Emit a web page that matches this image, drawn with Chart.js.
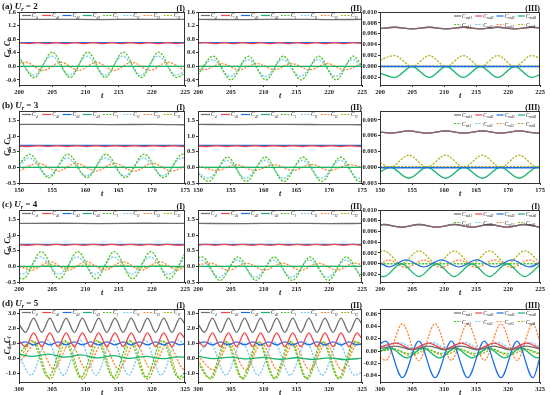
<!DOCTYPE html>
<html><head><meta charset="utf-8">
<script src="https://cdn.jsdelivr.net/npm/chart.js@4.4.0/dist/chart.umd.min.js"></script>
<style>
html,body{margin:0;padding:0;background:#fff}
body{width:550px;height:395px;position:relative;overflow:hidden}
canvas{position:absolute}
</style>
</head><body>
<script>
// ---------- tick labels ----------
const xTicksA = [200,205,210,215,220,225];
const xTicksB = [150,155,160,165,170,175];
const xTicksD = [300,305,310,315,320,325];
const yTicksA12 = [-0.4,0,0.4,0.8,1.2,1.6];
const yTicksBC12 = [-0.5,0,0.5,1.0,1.5];
const yTicksD12 = [-1,0,1,2,3];
const yTicksA3 = [-0.002,0,0.002,0.004,0.006,0.008,0.010];
const yTicksB3 = [-0.003,0,0.003,0.006,0.009];
const yTicksD3 = [-0.04,-0.02,0,0.02,0.04,0.06];
const legend12 = [['d',''],['d','1'],['d','2'],['d','3'],['l',''],['l','1'],['l','2'],['l','3']];
const legend3 = [['m','d1'],['m','d2'],['m','d3'],['m','d4'],['m','l1'],['m','l2'],['m','l3'],['m','l4']];
const titles = ['(a) ','(b) ','(c) ','(d) '];
const urValues = ['2','3','4','5'];
const tags = [['(I)','(II)','(III)'],['(I)','(II)','(III)'],['(I)','(II)','(I)'],['(I)','(II)','(III)']];

// ---------- row (a) U_r = 2 ----------
const aI_d  = [[200,1.38],[206,1.385],[212,1.378],[218,1.385],[225,1.38]];
const aI_d1 = [[200,0.69],[201.4,0.67],[202.8,0.70],[204.2,0.67],[205.6,0.70],[207.0,0.67],[208.4,0.70],[209.8,0.67],[211.2,0.70],[212.6,0.67],[214.0,0.70],[215.4,0.67],[216.8,0.70],[218.2,0.67],[219.6,0.70],[221.0,0.67],[222.4,0.70],[223.8,0.67],[225,0.69]];
const aI_d2 = [[200,0.70],[225,0.70]];
const aI_d3 = [[200,0.0],[225,0.0]];
const aI_l  = [[200,0.28],[202.3,-0.33],[205.0,0.42],[207.7,-0.33],[210.35,0.42],[213.0,-0.33],[215.7,0.42],[218.4,-0.33],[221.05,0.42],[223.7,-0.33],[225,-0.2]];
const aI_l1 = [[200,0.22],[202.2,-0.26],[204.9,0.30],[207.6,-0.26],[210.25,0.30],[212.9,-0.26],[215.6,0.30],[218.3,-0.26],[220.95,0.30],[223.6,-0.26],[225,-0.14]];
const aI_l2 = [[200,0.1],[201.0,0.12],[203.6,-0.12],[206.3,0.12],[209.0,-0.12],[211.65,0.12],[214.3,-0.12],[217.0,0.12],[219.7,-0.12],[222.35,0.12],[225,-0.12]];
const aI_l3 = [[200,0.0],[225,0.0]];

const aII_d  = [[200,1.38],[207,1.376],[214,1.384],[220,1.377],[225,1.38]];
const aII_d1 = [[200,0.68],[201.2,0.70],[202.6,0.67],[204.0,0.70],[205.4,0.67],[206.8,0.70],[208.2,0.67],[209.6,0.70],[211.0,0.67],[212.4,0.70],[213.8,0.67],[215.2,0.70],[216.6,0.67],[218.0,0.70],[219.4,0.67],[220.8,0.70],[222.2,0.67],[223.6,0.70],[225,0.67]];
const aII_d2 = [[200,0.70],[225,0.70]];
const aII_d3 = [[200,0.0],[225,0.0]];
const aII_l  = [[200,-0.25],[202.3,0.30],[205.0,-0.40],[207.7,0.30],[210.35,-0.40],[213.0,0.30],[215.7,-0.40],[218.4,0.30],[221.05,-0.40],[223.7,0.30],[225,0.0]];
const aII_l1 = [[200,-0.18],[202.2,0.20],[204.9,-0.30],[207.6,0.20],[210.25,-0.30],[212.9,0.20],[215.6,-0.30],[218.3,0.20],[220.95,-0.30],[223.6,0.20],[225,-0.05]];
const aII_l2 = [[200,-0.08],[200.9,-0.10],[203.6,0.08],[206.3,-0.10],[209.0,0.08],[211.65,-0.10],[214.3,0.08],[217.0,-0.10],[219.7,0.08],[222.35,-0.10],[225,0.08]];
const aII_l3 = [[200,0.0],[225,0.0]];

const aIII_m  = [[200,0.00695],[202.3,0.0072],[205.0,0.0069],[207.7,0.0072],[210.35,0.0069],[213.0,0.0072],[215.7,0.0069],[218.4,0.0072],[221.05,0.0069],[223.7,0.0072],[225,0.0071]];
const aIII_d3 = [[200,0.0],[225,0.0]];
const aIII_d4 = [[200,-0.0012],[202.3,-0.0020],[205.0,0.0],[207.7,-0.0020],[210.35,0.0],[213.0,-0.0020],[215.7,0.0],[218.4,-0.0020],[221.05,0.0],[223.7,-0.0020],[225,-0.0015]];
const aIII_l1 = [[200,0.0],[225,0.0]];
const aIII_l3 = [[200,0.00005],[225,0.00005]];
const aIII_l4 = [[200,0.0012],[202.3,0.0020],[205.0,0.0],[207.7,0.0020],[210.35,0.0],[213.0,0.0020],[215.7,0.0],[218.4,0.0020],[221.05,0.0],[223.7,0.0020],[225,0.0015]];

// ---------- row (b) U_r = 3 ----------
const bI_d  = [[150,1.37],[157,1.375],[164,1.366],[170,1.372],[175,1.36]];
const bI_d1 = [[150,0.68],[151.45,0.665],[152.9,0.69],[154.35,0.665],[155.8,0.69],[157.25,0.665],[158.7,0.69],[160.15,0.665],[161.6,0.69],[163.05,0.665],[164.5,0.69],[165.95,0.665],[167.4,0.69],[168.85,0.665],[170.3,0.69],[171.75,0.665],[173.2,0.69],[174.65,0.665],[175,0.67]];
const bI_d2 = [[150,0.70],[175,0.70]];
const bI_d3 = [[150,0.0],[175,0.0]];
const bI_l  = [[150,0.1],[151.6,0.42],[154.5,-0.33],[157.35,0.42],[160.25,-0.33],[163.1,0.42],[166.0,-0.33],[168.85,0.42],[171.75,-0.33],[174.6,0.42],[175,0.41]];
const bI_l1 = [[150,0.05],[151.5,0.30],[154.4,-0.27],[157.25,0.30],[160.15,-0.27],[163.0,0.30],[165.9,-0.27],[168.75,0.30],[171.65,-0.27],[174.5,0.30],[175,0.29]];
const bI_l2 = [[150,-0.12],[152.9,0.13],[155.8,-0.12],[158.65,0.13],[161.55,-0.12],[164.4,0.13],[167.3,-0.12],[170.15,0.13],[173.05,-0.12],[175,0.05]];
const bI_l3 = [[150,0.0],[175,0.0]];

const bII_d  = [[150,1.37],[156,1.366],[163,1.374],[169,1.366],[175,1.36]];
const bII_d1 = bI_d1;
const bII_d2 = [[150,0.70],[175,0.70]];
const bII_d3 = [[150,0.0],[175,0.0]];
const bII_l  = [[150,-0.2],[151.6,-0.45],[154.5,0.33],[157.35,-0.45],[160.25,0.33],[163.1,-0.45],[166.0,0.33],[168.85,-0.45],[171.75,0.33],[174.6,-0.45],[175,-0.43]];
const bII_l1 = [[150,-0.15],[151.5,-0.35],[154.4,0.22],[157.25,-0.35],[160.15,0.22],[163.0,-0.35],[165.9,0.22],[168.75,-0.35],[171.65,0.22],[174.5,-0.35],[175,-0.34]];
const bII_l2 = [[150,0.05],[152.9,-0.10],[155.8,0.09],[158.65,-0.10],[161.55,0.09],[164.4,-0.10],[167.3,0.09],[170.15,-0.10],[173.05,0.09],[175,0.0]];
const bII_l3 = [[150,0.0],[175,0.0]];

const bIII_m  = [[150,0.0067],[151.6,0.0065],[154.5,0.0069],[157.35,0.0065],[160.25,0.0069],[163.1,0.0065],[166.0,0.0069],[168.85,0.0065],[171.75,0.0069],[174.6,0.0065],[175,0.0065]];
const bIII_d3 = [[150,-0.0001],[175,-0.0001]];
const bIII_d4 = [[150,-0.0009],[151.6,0.0],[154.5,-0.0021],[157.35,0.0],[160.25,-0.0021],[163.1,0.0],[166.0,-0.0021],[168.85,0.0],[171.75,-0.0021],[174.6,0.0],[175,-0.0001]];
const bIII_l1 = [[150,0.0],[175,0.0]];
const bIII_l3 = [[150,0.0001],[175,0.0001]];
const bIII_l4 = [[150,0.0009],[151.6,0.0],[154.5,0.0023],[157.35,0.0],[160.25,0.0023],[163.1,0.0],[166.0,0.0023],[168.85,0.0],[171.75,0.0023],[174.6,0.0],[175,0.0001]];

// ---------- row (c) U_r = 4 ----------
const cI_d  = [[200,1.37],[206,1.376],[212,1.366],[219,1.376],[225,1.37]];
const cI_d1 = aI_d1;
const cI_d2 = [[200,0.70],[225,0.70]];
const cI_d3 = [[200,0.0],[225,0.0]];
const cI_l  = [[200,-0.37],[200.6,-0.40],[203.35,0.47],[206.1,-0.40],[208.85,0.47],[211.6,-0.40],[214.35,0.47],[217.1,-0.40],[219.85,0.47],[222.6,-0.40],[225,0.42]];
const cI_l1 = [[200,-0.23],[200.5,-0.25],[203.25,0.30],[206.0,-0.25],[208.75,0.30],[211.5,-0.25],[214.25,0.30],[217.0,-0.25],[219.75,0.30],[222.5,-0.25],[225,0.27]];
const cI_l2 = [[200,0.0],[201.9,-0.12],[204.65,0.15],[207.4,-0.12],[210.15,0.15],[212.9,-0.12],[215.65,0.15],[218.4,-0.12],[221.15,0.15],[223.9,-0.12],[225,0.0]];
const cI_l3 = [[200,0.0],[201.9,-0.04],[204.65,0.04],[207.4,-0.04],[210.15,0.04],[212.9,-0.04],[215.65,0.04],[218.4,-0.04],[221.15,0.04],[223.9,-0.04],[225,0.0]];

const cII_d  = [[200,1.37],[207,1.366],[213,1.375],[220,1.366],[225,1.37]];
const cII_d1 = aII_d1;
const cII_d2 = [[200,0.70],[225,0.70]];
const cII_d3 = [[200,0.0],[225,0.0]];
const cII_l  = [[200,0.28],[200.6,0.30],[203.35,-0.45],[206.1,0.30],[208.85,-0.45],[211.6,0.30],[214.35,-0.45],[217.1,0.30],[219.85,-0.45],[222.6,0.30],[225,-0.43]];
const cII_l1 = [[200,0.18],[200.5,0.20],[203.25,-0.35],[206.0,0.20],[208.75,-0.35],[211.5,0.20],[214.25,-0.35],[217.0,0.20],[219.75,-0.35],[222.5,0.20],[225,-0.33]];
const cII_l2 = [[200,0.05],[201.9,0.10],[204.65,-0.12],[207.4,0.10],[210.15,-0.12],[212.9,0.10],[215.65,-0.12],[218.4,0.10],[221.15,-0.12],[223.9,0.10],[225,0.05]];
const cII_l3 = [[200,0.0],[225,0.0]];

const cIII_m  = [[200,0.0072],[200.6,0.0073],[203.35,0.0068],[206.1,0.0073],[208.85,0.0068],[211.6,0.0073],[214.35,0.0068],[217.1,0.0073],[219.85,0.0068],[222.6,0.0073],[225,0.0068]];
const cIII_d3 = [[200,0.0002],[201.35,-0.0006],[204.1,0.0007],[206.85,-0.0006],[209.6,0.0007],[212.35,-0.0006],[215.1,0.0007],[217.85,-0.0006],[220.6,0.0007],[223.35,-0.0006],[225,0.0002]];
const cIII_d4 = [[200,-0.0023],[200.6,-0.0024],[203.35,0.0],[206.1,-0.0024],[208.85,0.0],[211.6,-0.0024],[214.35,0.0],[217.1,-0.0024],[219.85,0.0],[222.6,-0.0024],[225,-0.0002]];
const cIII_l1 = [[200,0.0],[225,0.0]];
const cIII_l3 = [[200,-0.0002],[201.35,0.0007],[204.1,-0.0007],[206.85,0.0007],[209.6,-0.0007],[212.35,0.0007],[215.1,-0.0007],[217.85,0.0007],[220.6,-0.0007],[223.35,0.0007],[225,-0.0002]];
const cIII_l4 = [[200,0.0023],[200.6,0.0024],[203.35,0.0],[206.1,0.0024],[208.85,0.0],[211.6,0.0024],[214.35,0.0],[217.1,0.0024],[219.85,0.0],[222.6,0.0024],[225,0.0002]];

// ---------- row (d) U_r = 5 ----------
const dI_d  = [[300,2.3],[300.98,1.75],[302.2,2.7],[303.43,1.75],[304.65,2.7],[305.88,1.75],[307.1,2.7],[308.33,1.75],[309.55,2.7],[310.78,1.75],[312.0,2.7],[313.23,1.75],[314.45,2.7],[315.68,1.75],[316.9,2.7],[318.13,1.75],[319.35,2.7],[320.58,1.75],[321.8,2.7],[323.03,1.75],[324.25,2.7],[325,2.3]];
const dI_d1 = [[300,1.2],[300.98,0.8],[302.2,1.72],[303.43,0.8],[304.65,1.72],[305.88,0.8],[307.1,1.72],[308.33,0.8],[309.55,1.72],[310.78,0.8],[312.0,1.72],[313.23,0.8],[314.45,1.72],[315.68,0.8],[316.9,1.72],[318.13,0.8],[319.35,1.72],[320.58,0.8],[321.8,1.72],[323.03,0.8],[324.25,1.72],[325,1.3]];
const dI_d2 = [[300,1.0],[300.98,1.12],[302.2,0.92],[303.43,1.12],[304.65,0.92],[305.88,1.12],[307.1,0.92],[308.33,1.12],[309.55,0.92],[310.78,1.12],[312.0,0.92],[313.23,1.12],[314.45,0.92],[315.68,1.12],[316.9,0.92],[318.13,1.12],[319.35,0.92],[320.58,1.12],[321.8,0.92],[323.03,1.12],[324.25,0.92],[325,1.0]];
const dI_d3 = [[300,0.3],[302.0,0.15],[304.4,0.3],[306.9,0.1],[309.3,0.25],[311.8,0.05],[314.2,0.2],[316.7,0.02],[319.1,0.15],[321.6,0.0],[324.0,0.12],[325,0.1]];
const dI_l  = [[300,0.3],[301.95,1.2],[304.4,-1.25],[306.85,1.2],[309.3,-1.25],[311.75,1.2],[314.2,-1.25],[316.65,1.2],[319.1,-1.25],[321.55,1.2],[324.0,-1.25],[325,-0.9]];
const dI_l1 = [[300,0.2],[301.8,-1.1],[304.25,1.25],[306.7,-1.1],[309.15,1.25],[311.6,-1.1],[314.05,1.25],[316.5,-1.1],[318.95,1.25],[321.4,-1.1],[323.85,1.25],[325,0.9]];
const dI_l2 = [[300,-0.3],[302.8,1.05],[305.25,-0.7],[307.7,1.05],[310.15,-0.7],[312.6,1.05],[315.05,-0.7],[317.5,1.05],[319.95,-0.7],[322.4,1.05],[324.85,-0.7],[325,-0.7]];
const dI_l3 = [[300,0.0],[302.25,1.15],[304.7,-1.35],[307.15,1.15],[309.6,-1.35],[312.05,1.15],[314.5,-1.35],[316.95,1.15],[319.4,-1.35],[321.85,1.15],[324.3,-1.35],[325,-1.1]];

const dII_d  = dI_d;
const dII_d1 = dI_d1;
const dII_d2 = dI_d2;
const dII_d3 = [[300,0.15],[302.5,0.0],[305,0.1],[307.5,-0.02],[310,0.08],[312.5,-0.04],[315,0.06],[317.5,-0.05],[320,0.05],[322.5,-0.06],[325,0.03]];
const dII_l  = [[300,-0.3],[301.8,-1.3],[304.25,1.15],[306.7,-1.3],[309.15,1.15],[311.6,-1.3],[314.05,1.15],[316.5,-1.3],[318.95,1.15],[321.4,-1.3],[323.85,1.15],[325,0.9]];
const dII_l1 = [[300,0.3],[301.8,1.1],[304.25,-1.1],[306.7,1.1],[309.15,-1.1],[311.6,1.1],[314.05,-1.1],[316.5,1.1],[318.95,-1.1],[321.4,1.1],[323.85,-1.1],[325,-0.9]];
const dII_l2 = [[300,0.2],[302.35,-0.75],[304.8,1.0],[307.25,-0.75],[309.7,1.0],[312.15,-0.75],[314.6,1.0],[317.05,-0.75],[319.5,1.0],[321.95,-0.75],[324.4,1.0],[325,0.95]];
const dII_l3 = [[300,-0.1],[302.0,-1.35],[304.45,1.1],[306.9,-1.35],[309.35,1.1],[311.8,-1.35],[314.25,1.1],[316.7,-1.35],[319.15,1.1],[321.6,-1.35],[324.05,1.1],[325,0.95]];

const dIII_d1 = [[300,0.004],[302.5,0.008],[305.0,0.002],[307.6,0.008],[310.1,0.002],[312.7,0.008],[315.2,0.002],[317.8,0.008],[320.3,0.002],[322.9,0.008],[325,0.003]];
const dIII_d2 = [[300,0.006],[302.5,0.013],[305.0,0.003],[307.6,0.013],[310.1,0.003],[312.7,0.013],[315.2,0.003],[317.8,0.013],[320.3,0.003],[322.9,0.013],[325,0.004]];
const dIII_d3 = [[300,0.012],[300.9,0.016],[303.5,-0.043],[306.05,0.016],[308.6,-0.043],[311.15,0.016],[313.7,-0.043],[316.3,0.016],[318.9,-0.043],[321.4,0.016],[323.9,-0.043],[325,-0.01]];
const dIII_d4 = [[300,0.0],[301.6,0.005],[304.2,-0.011],[306.7,0.005],[309.3,-0.011],[311.8,0.005],[314.4,-0.011],[316.9,0.005],[319.5,-0.011],[322.0,0.005],[324.6,-0.011],[325,-0.009]];
const dIII_l1 = [[300,0.0],[302.0,0.004],[304.5,-0.004],[307.1,0.004],[309.6,-0.004],[312.2,0.004],[314.7,-0.004],[317.3,0.004],[319.8,-0.004],[322.4,0.004],[325,-0.004]];
const dIII_l2 = [[300,0.008],[303.0,0.014],[305.5,0.004],[308.1,0.014],[310.6,0.004],[313.2,0.014],[315.7,0.004],[318.3,0.014],[320.8,0.004],[323.4,0.014],[325,0.007]];
const dIII_l3 = [[300,-0.01],[300.9,-0.015],[303.5,0.044],[306.05,-0.015],[308.6,0.044],[311.15,-0.015],[313.7,0.044],[316.3,-0.015],[318.9,0.044],[321.4,-0.015],[323.9,0.044],[325,0.015]];
const dIII_l4 = [[300,0.0],[302.3,0.002],[304.8,-0.007],[307.4,0.002],[309.9,-0.007],[312.5,0.002],[315.0,-0.007],[317.6,0.002],[320.1,-0.007],[322.7,0.002],[325,-0.006]];

// ---------- styles & layout ----------
const COLORS = ['#6e6e6e','#f0464b','#1b6fe8','#19b56c','#4cc526','#7fc9f2','#ff8838','#b4b41c'];
const DASHED = [false,false,false,false,true,true,true,true];
const ROWS = [
  {y0:0,   top:12,  bot:85,  h:99},
  {y0:99,  top:111, bot:183, h:99},
  {y0:198, top:210, bot:282, h:99},
  {y0:296, top:309, bot:382, h:99}
];
const COLS = [
  {x0:0,   w:194, L:19,  R:185},
  {x0:180, w:192, L:198, R:362},
  {x0:360, w:190, L:380, R:540}
];
const FONT = '"Liberation Serif", "DejaVu Serif", serif';

const panels = [
  {r:0,c:0,x:[200,225],xt:xTicksA,y:[-0.55,1.6],yt:yTicksA12,dec:1,s:[aI_d,aI_d1,aI_d2,aI_d3,aI_l,aI_l1,aI_l2,aI_l3]},
  {r:0,c:1,x:[200,225],xt:xTicksA,y:[-0.55,1.6],yt:yTicksA12,dec:1,s:[aII_d,aII_d1,aII_d2,aII_d3,aII_l,aII_l1,aII_l2,aII_l3]},
  {r:0,c:2,x:[200,225],xt:xTicksA,y:[-0.0034,0.010],yt:yTicksA3,dec:3,s:[aIII_m,aIII_m,aIII_d3,aIII_d4,aIII_l1,aIII_m,aIII_l3,aIII_l4]},
  {r:1,c:0,x:[150,175],xt:xTicksB,y:[-0.5,1.8],yt:yTicksBC12,dec:1,s:[bI_d,bI_d1,bI_d2,bI_d3,bI_l,bI_l1,bI_l2,bI_l3]},
  {r:1,c:1,x:[150,175],xt:xTicksB,y:[-0.5,1.8],yt:yTicksBC12,dec:1,s:[bII_d,bII_d1,bII_d2,bII_d3,bII_l,bII_l1,bII_l2,bII_l3]},
  {r:1,c:2,x:[150,175],xt:xTicksB,y:[-0.003,0.0107],yt:yTicksB3,dec:3,s:[bIII_m,bIII_m,bIII_d3,bIII_d4,bIII_l1,bIII_m,bIII_l3,bIII_l4]},
  {r:2,c:0,x:[200,225],xt:xTicksA,y:[-0.5,1.8],yt:yTicksBC12,dec:1,s:[cI_d,cI_d1,cI_d2,cI_d3,cI_l,cI_l1,cI_l2,cI_l3]},
  {r:2,c:1,x:[200,225],xt:xTicksA,y:[-0.5,1.8],yt:yTicksBC12,dec:1,s:[cII_d,cII_d1,cII_d2,cII_d3,cII_l,cII_l1,cII_l2,cII_l3]},
  {r:2,c:2,x:[200,225],xt:xTicksA,y:[-0.0034,0.010],yt:yTicksA3,dec:3,s:[cIII_m,cIII_m,cIII_d3,cIII_d4,cIII_l1,cIII_m,cIII_l3,cIII_l4]},
  {r:3,c:0,x:[300,325],xt:xTicksD,y:[-1.55,3.3],yt:yTicksD12,dec:1,s:[dI_d,dI_d1,dI_d2,dI_d3,dI_l,dI_l1,dI_l2,dI_l3]},
  {r:3,c:1,x:[300,325],xt:xTicksD,y:[-1.55,3.3],yt:yTicksD12,dec:1,s:[dII_d,dII_d1,dII_d2,dII_d3,dII_l,dII_l1,dII_l2,dII_l3]},
  {r:3,c:2,x:[300,325],xt:xTicksD,y:[-0.05,0.068],yt:yTicksD3,dec:2,s:[dIII_d1,dIII_d2,dIII_d3,dIII_d4,dIII_l1,dIII_l2,dIII_l3,dIII_l4]}
];

function subText(ctx, x, y, main, sub, size, style) {
  ctx.font = (style||'italic bold') + ' ' + size + 'px ' + FONT;
  ctx.fillText(main, x, y);
  let w = ctx.measureText(main).width;
  if (sub) {
    ctx.font = (style||'italic bold') + ' ' + (size*0.68).toFixed(1) + 'px ' + FONT;
    ctx.fillText(sub, x + w, y + size*0.25);
    w += ctx.measureText(sub).width;
  }
  return w;
}

function makeDecor(p) {
  return {
    id: 'decor' + p.r + p.c,
    afterDraw(chart) {
      const ctx = chart.ctx, a = chart.chartArea;
      ctx.save();
      ctx.strokeStyle = '#333'; ctx.lineWidth = 1;
      ctx.strokeRect(Math.round(a.left)+0.5, Math.round(a.top)+0.5, Math.round(a.right-a.left)-1, Math.round(a.bottom-a.top));
      ctx.fillStyle = '#111'; ctx.textBaseline = 'alphabetic';
      if (p.c < 2) {
        const step = (a.right - a.left - 4) / 8;
        for (let i = 0; i < 8; i++) {
          const lx = a.left + 3 + i*step, ly = a.top + 3.5;
          ctx.strokeStyle = COLORS[i]; ctx.lineWidth = 1.2;
          ctx.setLineDash(DASHED[i] ? [2,1.2] : []);
          ctx.beginPath(); ctx.moveTo(lx, ly); ctx.lineTo(lx+9, ly); ctx.stroke();
          ctx.setLineDash([]);
          ctx.fillStyle = '#111';
          subText(ctx, lx+10, ly+1.8, 'C', legend12[i][0]+legend12[i][1], 5.5, 'italic');
        }
      } else {
        for (let i = 0; i < 8; i++) {
          const row = Math.floor(i/4), k = i % 4;
          const lx = a.right - 86 + k*21.3, ly = a.top + 4 + row*8.5;
          ctx.strokeStyle = COLORS[i]; ctx.lineWidth = 1.2;
          ctx.setLineDash(DASHED[i] ? [2,1.2] : []);
          ctx.beginPath(); ctx.moveTo(lx, ly); ctx.lineTo(lx+7, ly); ctx.stroke();
          ctx.setLineDash([]);
          ctx.fillStyle = '#111';
          subText(ctx, lx+8, ly+2, 'C', legend3[i][0]+legend3[i][1], 5.5, 'italic');
        }
      }
      ctx.fillStyle = '#111';
      ctx.font = 'bold 8px ' + FONT; ctx.textAlign = 'right';
      ctx.fillText(tags[p.r][p.c], a.right, a.top - 1.5);
      ctx.textAlign = 'left';
      ctx.font = 'italic bold 8px ' + FONT; ctx.textAlign = 'center';
      ctx.fillText('t', (a.left+a.right)/2, a.bottom + 13);
      ctx.textAlign = 'left';
      if (p.c === 0) {
        let x = 2; const y = a.top - 3;
        ctx.font = 'bold 9px ' + FONT; ctx.fillText(titles[p.r], x, y);
        x += ctx.measureText(titles[p.r]).width;
        x += subText(ctx, x, y, 'U', 'r', 9, 'italic bold');
        ctx.font = 'bold 9px ' + FONT; ctx.fillText(' = ' + urValues[p.r], x, y);
        ctx.save();
        ctx.translate(7, (a.top + a.bottom)/2);
        ctx.rotate(-Math.PI/2);
        let tw = 0;
        ctx.font = 'italic bold 7.5px ' + FONT; tw += ctx.measureText('C').width*2 + ctx.measureText(', ').width;
        ctx.font = 'italic bold 5.1px ' + FONT; tw += ctx.measureText('d').width + ctx.measureText('l').width;
        let xx = -tw/2;
        xx += subText(ctx, xx, 2.5, 'C', 'd', 7.5, 'italic bold');
        ctx.font = 'bold 7.5px ' + FONT; ctx.fillText(', ', xx, 2.5); xx += ctx.measureText(', ').width;
        subText(ctx, xx, 2.5, 'C', 'l', 7.5, 'italic bold');
        ctx.restore();
      }
      ctx.restore();
    }
  };
}

panels.forEach(p => {
  const R = ROWS[p.r], C = COLS[p.c];
  const cv = document.createElement('canvas');
  cv.width = C.w; cv.height = R.h;
  cv.style.left = C.x0 + 'px'; cv.style.top = R.y0 + 'px';
  cv.style.width = C.w + 'px'; cv.style.height = R.h + 'px';
  document.body.appendChild(cv);
  const datasets = p.s.map((arr, i) => ({
    label: (p.c < 2 ? 'C' + legend12[i][0] + legend12[i][1] : 'C' + legend3[i][0] + legend3[i][1]),
    data: arr.map(v => ({x: v[0], y: v[1]})),
    borderColor: COLORS[i],
    backgroundColor: COLORS[i],
    borderWidth: 1.3,
    borderDash: DASHED[i] ? [2.2,1.3] : [],
    pointRadius: 0,
    fill: false,
    cubicInterpolationMode: 'monotone'
  }));
  const tickFont = {family: FONT, size: 6.5, weight: 'bold'};
  new Chart(cv, {
    type: 'line',
    data: {datasets},
    options: {
      responsive: false, animation: false, devicePixelRatio: 1,
      layout: {padding: {left: 0, right: C.x0 + C.w - C.R, top: R.top - R.y0, bottom: 0}},
      plugins: {legend: {display: false}, tooltip: {enabled: false}},
      scales: {
        x: {
          type: 'linear', min: p.x[0], max: p.x[1],
          afterBuildTicks: s => { s.ticks = p.xt.map(v => ({value: v})); },
          afterFit: s => { s.height = R.y0 + R.h - R.bot; },
          ticks: {font: tickFont, color: '#222', padding: 1, maxRotation: 0, autoSkip: false, callback: v => String(v)},
          grid: {drawOnChartArea: false, drawTicks: true, tickLength: 2, color: '#333'},
          border: {color: '#333', width: 1}
        },
        y: {
          type: 'linear', min: p.y[0], max: p.y[1],
          afterBuildTicks: s => { s.ticks = p.yt.map(v => ({value: v})); },
          afterFit: s => { s.width = C.L - C.x0; },
          ticks: {font: tickFont, color: '#222', padding: 1, autoSkip: false, callback: v => (Math.abs(v) < 1e-12 ? 0 : v).toFixed(p.dec)},
          grid: {drawOnChartArea: false, drawTicks: true, tickLength: 2, color: '#333'},
          border: {color: '#333', width: 1}
        }
      }
    },
    plugins: [makeDecor(p)]
  });
});
</script>
</body></html>
